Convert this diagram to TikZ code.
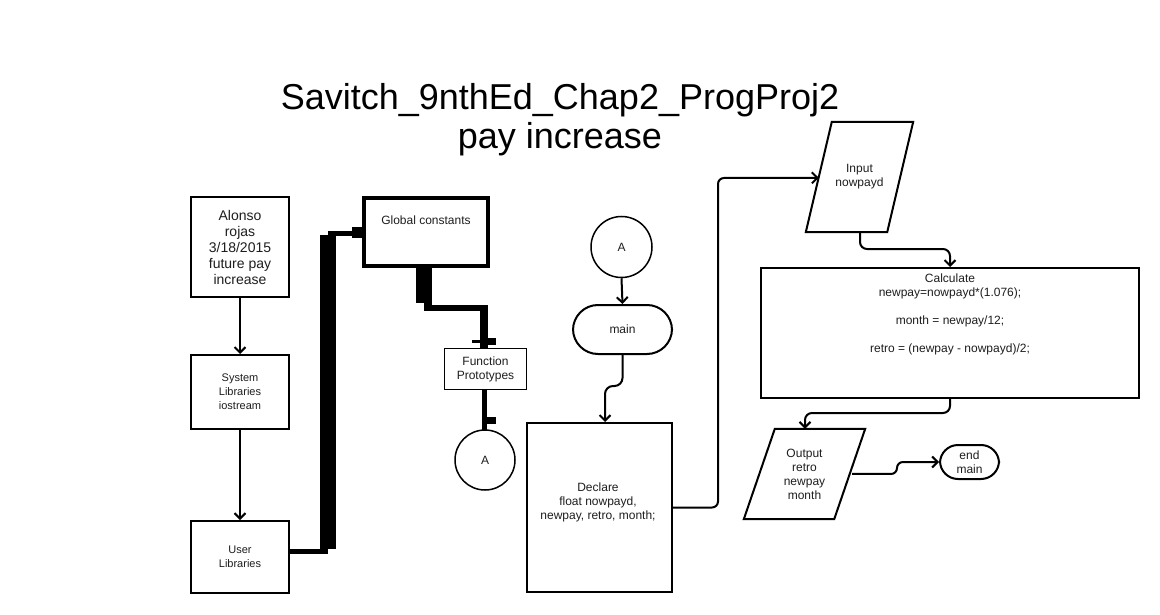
\documentclass[tikz,border=0pt]{standalone}
\usepackage{fontspec}
\setmainfont{Liberation Sans}
\usetikzlibrary{arrows.meta,calc}
\definecolor{txt}{HTML}{1E1E1E}
\begin{document}
\begin{tikzpicture}[x=1pt,y=-1pt]
\tikzset{
  box/.style={draw=black, line width=2pt, fill=white, inner sep=0pt, align=center,
    text=txt, font=\fontsize{12}{14}\selectfont},
  thinbox/.style={box, line width=1.5pt},
  circ/.style={circle, draw=black, line width=1.5pt, fill=white, inner sep=0pt,
    minimum size=60pt, text=txt, font=\fontsize{12}{14}\selectfont},
  term/.style={box, rounded corners=#1},
  flow/.style={draw=black, line width=2pt, rounded corners=7pt,
    -{Straight Barb[length=5.5pt,width=11pt]}},
  heavy/.style={fill=black},
  titlefont/.style={font=\fontsize{36}{40}\selectfont, text=black, inner sep=0pt, anchor=base}
}
\useasboundingbox[fill=white] (0,0) rectangle (1160,615);

% title
\node[titlefont] (t1) at (560,110) {Savitch\_9nthEd\_Chap2\_ProgProj2};
\node[titlefont] (t2) at (560,149) {pay increase};

% left column
\node[box, minimum width=98pt, minimum height=99pt, font=\fontsize{14}{16}\selectfont] (al) at (240,247) {Alonso\\rojas\\3/18/2015\\future pay\\increase};
\node[box, minimum width=98pt, minimum height=74pt, font=\fontsize{11}{14}\selectfont] (sl) at (240,392) {System\\Libraries\\iostream};
\node[box, minimum width=98pt, minimum height=72pt, font=\fontsize{11}{14}\selectfont] (ul) at (240,557) {User\\Libraries};

\draw[flow] (al.south) -- (sl.north);
\draw[flow] (sl.south) -- (ul.north);

% global constants
\node[box, line width=4pt, minimum width=124pt, minimum height=68pt,
  label={[anchor=north, inner sep=0pt, text=txt, font=\fontsize{12}{14}\selectfont, yshift=-20pt]north:Global constants}] (gc) at (426,232) {};

% thick connector user libraries -> global constants
\fill[heavy] ([yshift=8pt]ul.east) rectangle (328,554);
\fill[heavy] (320,235) rectangle (336,549);
\fill[heavy] (328,231) rectangle (352,236);
\fill[heavy] (352,227) rectangle (gc.west |- 0,238);

% function prototypes
\node[thinbox, minimum width=82pt, minimum height=41pt] (fp) at (485.5,369) {Function\\Prototypes};
\node[circ] (a1) at (485,460) {A};

% thick connector global constants -> function prototypes
\fill[heavy] (416,266) rectangle (432,303);
\fill[heavy] (424,266) rectangle (432,311);
\fill[heavy] (424,305) rectangle (488,311);
\fill[heavy] (480,305) rectangle (488,348);
\fill[heavy] (472,340) rectangle (488,342.5);
\fill[heavy] (488,338) rectangle (496,345);

% thick connector function prototypes -> A
\fill[heavy] ([xshift=-4pt]fp.south) rectangle (487,430);
\fill[heavy] (487,417) rectangle (496,424);

% main column
\node[circ, minimum size=61pt] (a2) at (621.5,247) {A};
\node[term=25pt, minimum width=99pt, minimum height=49pt] (mn) at (622.5,329.5) {main};
\node[box, minimum width=145pt, minimum height=169pt] (dec) at (599.5,507.5) {};
\node[text=txt, font=\fontsize{12}{14}\selectfont, align=center, inner sep=0pt] (dect) at (598,502) {Declare\\float nowpayd,\\newpay, retro, month;};

\draw[flow] (a2.south) -- (mn.north);
\draw[flow, rounded corners=8pt] (mn.south) -- (622.5,386) -- (605,386) -- (605,422);

% input
\node[minimum width=107pt, minimum height=110pt, inner sep=0pt, align=center, text=txt, font=\fontsize{12}{14}\selectfont] (inp) at (859.5,177) {Input\\nowpayd};
\draw[black, line width=2pt, line join=miter]
  ($(inp.north west)+(26,0)$) -- (inp.north east) -- ($(inp.south east)-(26,0)$) -- (inp.south west) -- cycle;
\coordinate (inpL) at ($(inp.north west)+(13,56)$);
\coordinate (inpB) at ($(inp.south)+(0.5,0)$);

\draw[flow, rounded corners=6pt] (dec.east) -- (718,507.5) -- (718,178) -- (inpL);

% calculate
\node[box, minimum width=378pt, minimum height=130pt] (calc) at (950,333) {};
\node[text=txt, font=\fontsize{12}{14}\selectfont, align=center, inner sep=0pt, anchor=north] (calct) at (950,273.5) {Calculate\\newpay=nowpayd*(1.076);\\[14pt]month = newpay/12;\\[14pt]retro = (newpay - nowpayd)/2;};

\draw[flow] (inpB) -- (860,249) -- (950,249) -- (calc.north);

% output
\node[minimum width=121pt, minimum height=90pt, inner sep=0pt, align=center, text=txt, font=\fontsize{12}{14}\selectfont] (out) at (804.5,474) {Output\\retro\\newpay\\month};
\draw[black, line width=2pt, line join=miter]
  ($(out.north west)+(31,0)$) -- (out.north east) -- ($(out.south east)-(31,0)$) -- (out.south west) -- cycle;
\coordinate (outT) at ($(out.north)+(0.5,0)$);
\coordinate (outR) at ($(out.north east)+(-13,45)$);

\draw[flow] (calc.south) -- (950,413) -- (805,413) -- (outT);

% end main
\node[term=18pt, minimum width=59pt, minimum height=34pt] (en) at (969.5,462) {end\\main};
\draw[flow, rounded corners=6pt] (outR) -- (897,474) -- (897,462) -- (en.west);
\end{tikzpicture}
\end{document}
